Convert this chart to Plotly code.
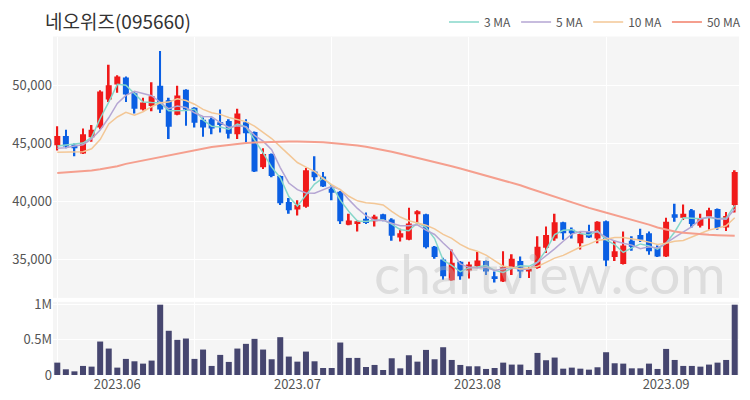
import pandas as pd
import plotly.graph_objects as go

dates = (
    ["2023-05-22", "2023-05-23", "2023-05-24", "2023-05-25", "2023-05-26", "2023-05-30", "2023-05-31"]
    + ["2023-06-%02d" % d for d in [1, 2, 5, 7, 8, 9, 12, 13, 14, 15, 16, 19, 20, 21, 22, 23, 26, 27, 28, 29, 30]]
    + ["2023-07-%02d" % d for d in [3, 4, 5, 6, 7, 10, 11, 12, 13, 14, 17, 18, 19, 20, 21, 24, 25, 26, 27, 28, 31]]
    + ["2023-08-%02d" % d for d in [1, 2, 3, 4, 7, 8, 9, 10, 11, 14, 16, 17, 18, 21, 22, 23, 24, 25, 28, 29, 30, 31]]
    + ["2023-09-%02d" % d for d in [1, 4, 5, 6, 7, 8, 11, 12, 13]]
)

opens = [44850, 45650, 44900, 44150, 45550, 46400, 48800, 50100, 50700, 49350,
         47950, 48250, 50000, 48750, 47500, 49650, 48100, 47050, 47100, 46850,
         46950, 45800, 46850, 46000, 42950, 44100, 42200, 39950, 39300, 39550,
         42600, 42150, 41100, 40850, 38000, 38050, 38500, 38300, 38900, 38450,
         36900, 36700, 38900, 38900, 36100, 35000, 33200, 34800, 34050, 34400,
         34850, 33550, 33100, 34350, 34850, 33950, 34250, 36000, 36800, 38200,
         37550, 36400, 37400, 36800, 38300, 35200, 34600, 36600, 37100, 37250,
         36050, 35250, 38900, 38600, 39250, 37900, 38700, 39350, 37750, 39700]

highs = [46500, 46200, 45000, 46300, 46600, 49600, 51800, 50900, 50800, 49500,
         48950, 50300, 53000, 48950, 50000, 49700, 48150, 47250, 47250, 47950,
         47100, 48000, 47100, 46050, 44600, 44150, 42250, 40300, 40100, 42900,
         43900, 42550, 41400, 40900, 38950, 38400, 39050, 38850, 38950, 38550,
         37650, 39450, 39250, 38950, 36150, 35150, 35850, 34850, 34800, 35650,
         34900, 33950, 35700, 35450, 35250, 34350, 37000, 37850, 38950, 38250,
         37750, 37400, 38000, 38300, 38350, 36600, 37400, 37000, 37650, 37400,
         36200, 38600, 39800, 39750, 39350, 38950, 39450, 39400, 39100, 42700]

lows = [44400, 44600, 43900, 44100, 45150, 46250, 48600, 49400, 48600, 47600,
        47850, 47800, 47650, 45400, 47450, 46550, 46400, 45600, 45800, 45950,
        45450, 45400, 45100, 42550, 42800, 42100, 39700, 38950, 38800, 39450,
        41800, 41250, 40100, 38050, 37950, 37400, 38050, 37850, 38300, 36600,
        36550, 36650, 38050, 35950, 35050, 33250, 33150, 33250, 33350, 34250,
        33650, 33000, 33050, 33650, 33400, 33400, 34200, 35550, 36600, 36700,
        36800, 35850, 36850, 36400, 34400, 34850, 34550, 35750, 36500, 35400,
        35200, 35200, 38250, 38400, 37750, 37750, 37550, 37550, 37450, 39050]

closes = [45650, 44750, 44600, 45800, 46200, 49500, 50050, 50800, 49250, 48000,
          48550, 49100, 47950, 46450, 49150, 47950, 46800, 46400, 46300, 46600,
          45850, 47600, 45900, 42600, 44100, 42200, 39850, 39250, 39700, 42700,
          42100, 41300, 40750, 38300, 38350, 38300, 38150, 38700, 38400, 37050,
          37250, 38100, 39150, 36050, 35200, 33550, 34700, 33550, 34550, 34900,
          33950, 33300, 34350, 35050, 33950, 34200, 36100, 37100, 38200, 37250,
          37250, 37200, 36900, 38250, 34900, 35700, 36200, 36100, 36700, 35700,
          35250, 38250, 38600, 38950, 38050, 38550, 39250, 37700, 38750, 42550]

volumes = [176000, 81000, 52000, 129000, 119000, 476000, 376000, 105000, 229000, 195000,
           162000, 205000, 1000000, 629000, 500000, 519000, 229000, 362000, 129000, 286000,
           186000, 376000, 443000, 514000, 362000, 224000, 538000, 262000, 190000, 333000,
           195000, 100000, 100000, 462000, 243000, 243000, 114000, 143000, 71000, 238000,
           95000, 281000, 190000, 357000, 224000, 395000, 214000, 143000, 124000, 124000,
           86000, 100000, 176000, 148000, 148000, 71000, 314000, 210000, 248000, 90000,
           105000, 90000, 76000, 110000, 324000, 167000, 162000, 95000, 95000, 162000,
           86000, 371000, 214000, 129000, 129000, 119000, 148000, 176000, 214000, 1000000]

# 50-day moving average (needs history before the window)
ma50 = [42450, 42500, 42550, 42600, 42680, 42780, 42900, 43050, 43250, 43400,
        43550, 43700, 43850, 44000, 44150, 44300, 44450, 44580, 44700, 44800,
        44900, 44980, 45050, 45100, 45130, 45150, 45170, 45180, 45180, 45170,
        45150, 45120, 45060, 45000, 44920, 44830, 44720, 44600, 44450, 44300,
        44120, 43950, 43780, 43600, 43420, 43250, 43050, 42850, 42650, 42450,
        42250, 42050, 41850, 41650, 41400, 41150, 40900, 40650, 40400, 40150,
        39900, 39680, 39450, 39250, 39050, 38850, 38650, 38450, 38250, 38000,
        37750, 37550, 37400, 37300, 37220, 37160, 37120, 37090, 37070, 37050]

# first values of the short MAs (window starts before the data)
ma3_head = [44800, 44900]
ma5_head = [44600, 44650, 44800, 44900]
ma10_head = [44250, 44250, 44250, 44300, 44550, 45350, 46700, 47300, 47700]

tick_dates = ["2023-06-01", "2023-07-03", "2023-08-01", "2023-09-01"]
tick_labels = ["2023.06", "2023.07", "2023.08", "2023.09"]
price_ticks = [35000, 40000, 45000, 50000]
vol_ticks = [0, 500000, 1000000]
vol_tick_labels = ["0", "0.5M", "1M"]

x = list(range(len(dates)))
close_s = pd.Series(closes)


def ma(n, head):
    vals = close_s.rolling(n).mean().tolist()
    vals[:len(head)] = head
    return vals


ma_series = [
    ("3 MA", ma(3, ma3_head), "#86d7ca", 1.5),
    ("5 MA", ma(5, ma5_head), "#b5a6d3", 1.5),
    ("10 MA", ma(10, ma10_head), "#f3c796", 1.5),
    ("50 MA", ma50, "#f59f8e", 2),
]

FONT = "Noto Sans CJK KR, Noto Sans, sans-serif"
RED = "#f01a1a"
BLUE = "#0b5fe3"

up = [c >= o for o, c in zip(opens, closes)]
colors = [RED if u else BLUE for u in up]
body_base = [min(o, c) for o, c in zip(opens, closes)]
body_len = [abs(c - o) for o, c in zip(opens, closes)]
wick_len = [h - l for h, l in zip(highs, lows)]

fig = go.Figure()

fig.add_annotation(text="chartview.com", xref="paper", yref="paper",
                   x=0.725, y=0.30, xanchor="center", yanchor="middle",
                   showarrow=False,
                   font=dict(size=55, color="rgba(185,185,185,0.40)", family="Lato, sans-serif"))

# candle wicks
fig.add_trace(go.Bar(
    x=x, y=wick_len, base=lows, width=0.2,
    marker=dict(color=colors, line=dict(width=0)),
    showlegend=False, xaxis="x", yaxis="y", hovertext=dates,
))
# candle bodies
fig.add_trace(go.Bar(
    x=x, y=body_len, base=body_base, width=0.7,
    marker=dict(color=colors, line=dict(width=0)),
    showlegend=False, xaxis="x", yaxis="y", hovertext=dates,
))

for name, vals, color, w in ma_series:
    fig.add_trace(go.Scatter(
        x=x, y=vals, mode="lines", name=name,
        line=dict(color=color, width=w), xaxis="x", yaxis="y",
    ))

fig.add_trace(go.Bar(
    x=x, y=volumes, width=0.7, marker=dict(color="#46466f", line=dict(width=0)),
    showlegend=False, xaxis="x2", yaxis="y2", hovertext=dates,
))

tickvals = [dates.index(d) for d in tick_dates]
grid = "#ffffff"
bg = "#f5f5f5"
xr = [-0.5, len(x) - 0.5]

fig.update_layout(
    width=750, height=400,
    margin=dict(l=53, r=11, t=33, b=25),
    paper_bgcolor="white", plot_bgcolor=bg,
    barmode="overlay",
    font=dict(family=FONT, size=13, color="#555555"),
    title=dict(text="네오위즈(095660)", x=45 / 750, xref="container", xanchor="left",
               y=1 - 22 / 400, yref="container", yanchor="middle",
               font=dict(size=19, color="#333333", family=FONT)),
    showlegend=True,
    legend=dict(orientation="h", xref="container", yref="container",
                x=746 / 750, xanchor="right", y=1 - 22 / 400, yanchor="middle",
                font=dict(size=12, color="#555555"), bgcolor="rgba(0,0,0,0)",
                itemwidth=30, tracegroupgap=0),
    xaxis=dict(domain=[0, 1], range=xr, anchor="y", automargin=False,
               showticklabels=False, showgrid=False, zeroline=False,
               tickvals=tickvals, ticks="",
               minor=dict(tickmode="linear", tick0=0, dtick=16, showgrid=True,
                          gridcolor=grid, gridwidth=1, ticks="")),
    yaxis=dict(domain=[0.228, 1], range=[31680, 54250], tickvals=price_ticks,
               tickformat=",", showgrid=True, gridcolor=grid, gridwidth=1,
               zeroline=False, ticks="", anchor="x", automargin=False),
    xaxis2=dict(domain=[0, 1], range=xr, anchor="y2", automargin=False,
                tickvals=tickvals, ticktext=tick_labels, showgrid=False, zeroline=False,
                ticks="",
                minor=dict(tickmode="linear", tick0=0, dtick=16, showgrid=True,
                           gridcolor=grid, gridwidth=1, ticks="")),
    yaxis2=dict(domain=[0, 0.216], range=[0, 1040000], tickvals=vol_ticks,
                ticktext=vol_tick_labels, showgrid=True, gridcolor=grid,
                zeroline=False, ticks="", anchor="x2", automargin=False),
)

fig.write_html("out.html", config={"displayModeBar": False},
               post_script="document.body.style.margin='0';")
